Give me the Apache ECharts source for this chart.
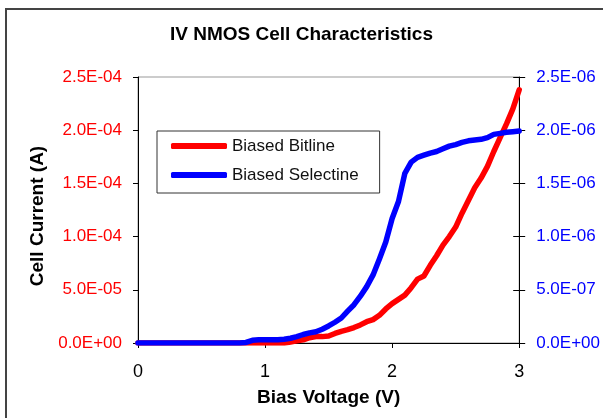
<!DOCTYPE html>
<html>
<head>
<meta charset="utf-8">
<script src="https://cdn.jsdelivr.net/npm/echarts@6/dist/echarts.min.js"></script>
<style>
  html, body { margin: 0; padding: 0; background: #fff; }
  #main { width: 603px; height: 418px; }
</style>
</head>
<body>
<div id="main"></div>
<script>
'use strict';

// bias voltage (V)
var voltage = [
    0.00, 0.05, 0.10, 0.15, 0.20, 0.25, 0.30, 0.35, 0.40, 0.45,
    0.50, 0.55, 0.60, 0.65, 0.70, 0.75, 0.80, 0.85, 0.90, 0.95,
    1.00, 1.05, 1.10, 1.15, 1.20, 1.25, 1.30, 1.35, 1.40, 1.45,
    1.50, 1.55, 1.60, 1.65, 1.70, 1.75, 1.80, 1.85, 1.90, 1.95,
    2.00, 2.05, 2.10, 2.15, 2.20, 2.25, 2.30, 2.35, 2.40, 2.45,
    2.50, 2.55, 2.60, 2.65, 2.70, 2.75, 2.80, 2.85, 2.90, 2.95,
    3.00
];

// Biased Bitline, cell current (A), left axis
var bitline = [
    0, 0, 0, 0, 0, 0, 0, 0, 0, 0,
    0, 0, 0, 0, 0, 0, 0, 0, 0, 0,
    0, 0, 0, 0, 1e-6, 2e-6, 3e-6, 5e-6, 6e-6, 6e-6,
    6.5e-6, 9e-6, 11e-6, 12.5e-6, 14.5e-6, 17e-6, 20e-6, 22e-6, 26e-6, 32e-6,
    37e-6, 41e-6, 45e-6, 52e-6, 60e-6, 63e-6, 73e-6, 82e-6, 92e-6, 100e-6,
    109e-6, 122e-6, 134e-6, 146e-6, 155e-6, 166e-6, 180e-6, 193e-6, 206e-6, 220e-6,
    238e-6
];

// Biased Selectine, cell current (A), right axis
var selectine = [
    0, 0, 0, 0, 0, 0, 0, 0, 0, 0,
    0, 0, 0, 0, 0, 0, 0, 5e-9, 25e-9, 30e-9,
    30e-9, 30e-9, 30e-9, 35e-9, 45e-9, 60e-9, 80e-9, 95e-9, 105e-9, 130e-9,
    160e-9, 195e-9, 235e-9, 300e-9, 360e-9, 440e-9, 530e-9, 640e-9, 790e-9, 950e-9,
    1170e-9, 1330e-9, 1595e-9, 1700e-9, 1745e-9, 1765e-9, 1785e-9, 1800e-9, 1825e-9, 1850e-9,
    1865e-9, 1885e-9, 1900e-9, 1908e-9, 1914e-9, 1930e-9, 1961e-9, 1970e-9, 1980e-9, 1986e-9,
    1992e-9
];

var xTicks = ['0', '1', '2', '3'];
var leftTicks = ['0.0E+00', '5.0E-05', '1.0E-04', '1.5E-04', '2.0E-04', '2.5E-04'];
var rightTicks = ['0.0E+00', '5.0E-07', '1.0E-06', '1.5E-06', '2.0E-06', '2.5E-06'];

var font = '"Liberation Sans", Arial, sans-serif';

function pairs(ys) {
    return voltage.map(function (v, i) {
        return [v, ys[i]];
    });
}

var chart = echarts.init(document.getElementById('main'));

var option = {
    animation: false,
    backgroundColor: '#fff',
    title: {
        text: 'IV NMOS Cell Characteristics',
        left: 'center',
        top: 20,
        textStyle: {
            fontFamily: font,
            fontSize: 19,
            fontWeight: 'bold',
            color: '#000'
        }
    },
    graphic: [{
        type: 'rect',
        shape: { x: 6, y: 9, width: 640, height: 440 },
        style: { fill: 'none', stroke: '#444', lineWidth: 2 },
        silent: true
    }],
    legend: {
        orient: 'vertical',
        left: 157,
        top: 131,
        padding: [5, 21, 8, 14],
        itemGap: 9,
        itemWidth: 56,
        itemHeight: 6,
        icon: 'roundRect',
        borderColor: '#333',
        borderWidth: 1,
        backgroundColor: '#fff',
        textStyle: {
            fontFamily: font,
            fontSize: 17,
            lineHeight: 20,
            color: '#111'
        },
        data: ['Biased Bitline', 'Biased Selectine']
    },
    grid: {
        left: 138,
        right: 79,
        top: 77,
        bottom: 75,
        show: true,
        borderColor: '#999',
        borderWidth: 1
    },
    xAxis: {
        type: 'value',
        min: 0,
        max: 3,
        interval: 1,
        name: 'Bias Voltage (V)',
        nameLocation: 'middle',
        nameGap: 45,
        nameTextStyle: {
            fontFamily: font,
            fontSize: 19,
            fontWeight: 'bold',
            color: '#000'
        },
        axisLine: { lineStyle: { color: '#000', width: 1 } },
        axisTick: { show: true, inside: false, length: 5, lineStyle: { color: '#000' } },
        axisLabel: {
            margin: 20,
            fontFamily: font,
            fontSize: 18,
            color: '#000',
            formatter: function (v, i) { return xTicks[i]; }
        },
        splitLine: { show: false }
    },
    yAxis: [{
        type: 'value',
        position: 'left',
        min: 0,
        max: 2.5e-4,
        interval: 5e-5,
        name: 'Cell Current (A)',
        nameLocation: 'middle',
        nameRotate: 90,
        nameGap: 91,
        nameTextStyle: {
            fontFamily: font,
            fontSize: 19,
            fontWeight: 'bold',
            color: '#000',
            padding: [0, 12, 0, 0]
        },
        axisLine: { show: true, lineStyle: { color: '#000', width: 1 } },
        axisTick: { show: true, inside: false, length: 5, lineStyle: { color: '#000' } },
        axisLabel: {
            margin: 16,
            fontFamily: font,
            fontSize: 17,
            color: '#ff0000',
            formatter: function (v, i) { return leftTicks[i]; }
        },
        splitLine: { show: false }
    }, {
        type: 'value',
        position: 'right',
        min: 0,
        max: 2.5e-6,
        interval: 5e-7,
        axisLine: { show: true, lineStyle: { color: '#000', width: 1 } },
        axisTick: { show: true, inside: false, length: 6, lineStyle: { color: '#000' } },
        axisLabel: {
            margin: 17,
            fontFamily: font,
            fontSize: 17,
            color: '#0000ff',
            formatter: function (v, i) { return rightTicks[i]; }
        },
        splitLine: { show: false }
    }, {
        // inner half of the crossing ticks on the right axis
        type: 'value',
        position: 'right',
        min: 0,
        max: 2.5e-6,
        interval: 5e-7,
        axisLine: { show: false },
        axisTick: { show: true, inside: true, length: 6, lineStyle: { color: '#000' } },
        axisLabel: { show: false },
        splitLine: { show: false }
    }],
    series: [{
        name: 'Biased Bitline',
        type: 'line',
        yAxisIndex: 0,
        symbol: 'none',
        z: 2,
        lineStyle: { color: '#ff0000', width: 5.5, cap: 'round', join: 'round' },
        itemStyle: { color: '#ff0000' },
        data: pairs(bitline)
    }, {
        name: 'Biased Selectine',
        type: 'line',
        yAxisIndex: 1,
        symbol: 'none',
        z: 3,
        lineStyle: { color: '#0000ff', width: 5.5, cap: 'round', join: 'round' },
        itemStyle: { color: '#0000ff' },
        data: pairs(selectine)
    }]
};

chart.setOption(option);
</script>
</body>
</html>
